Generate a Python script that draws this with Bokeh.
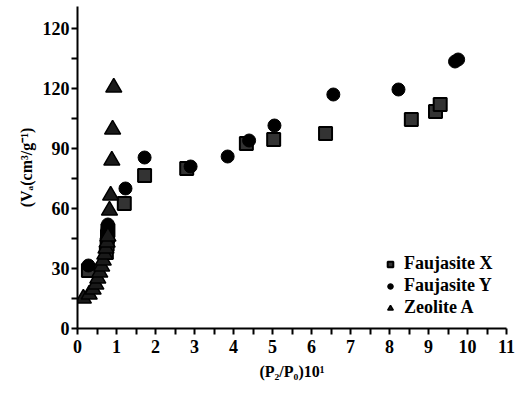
from bokeh.plotting import figure
from bokeh.models import Legend, LegendItem, FixedTicker
from bokeh.embed import file_html
from bokeh.resources import INLINE

# Faujasite X (squares)
fx_x = [0.28, 0.74, 0.76, 0.77, 0.78, 1.2, 1.72, 2.8, 4.33, 5.03, 6.36, 8.56, 9.18, 9.3]
fx_v = [29.0, 38.0, 42.0, 46.0, 49.0, 62.5, 76.5, 80.0, 92.5, 94.5, 97.5, 104.5, 108.5, 112.0]

# Faujasite Y (circles)
fy_x = [0.28, 0.76, 0.77, 0.78, 1.23, 1.72, 2.9, 3.85, 4.4, 5.05, 6.56, 8.23, 9.68, 9.76]
fy_v = [31.5, 47.0, 49.5, 52.0, 70.0, 85.5, 81.0, 86.0, 94.0, 101.5, 117.0, 119.5, 133.5, 134.5]

# Zeolite A (triangles)
za_x = [0.15, 0.3, 0.4, 0.47, 0.52, 0.57, 0.62, 0.66, 0.7, 0.73, 0.76, 0.78, 0.82, 0.85, 0.88, 0.9, 0.93]
za_v = [15.0, 17.0, 19.5, 22.0, 25.0, 28.0, 31.0, 34.0, 37.0, 40.0, 43.0, 46.0, 59.0, 66.5, 84.0, 99.5, 120.5]

x_ticks = [i * 0.5 for i in range(23)]
y_ticks = [i * 15 for i in range(11)]
y_labels = {0: "0", 30: "30", 60: "60", 90: "90", 120: "120", 150: "120"}

FONT = "Liberation Serif"

p = figure(width=515, height=396, x_range=(0, 11), y_range=(0, 161),
           output_backend="svg", toolbar_location=None,
           min_border_left=77, min_border_right=9, min_border_top=6, min_border_bottom=68)
p.grid.visible = False
p.outline_line_color = None

sq = p.scatter(fx_x, fx_v, marker="square", size=13, fill_color="#333333", line_color="black", line_width=2)
ci = p.scatter(fy_x, fy_v, marker="circle", size=13, fill_color="black", line_color="black")
tr = p.scatter(za_x, za_v, marker="triangle", size=16, fill_color="#1a1a1a", line_color="black", line_width=1.5)

for ax in (p.xaxis[0], p.yaxis[0]):
    ax.axis_line_width = 2
    ax.axis_line_color = "black"
    ax.major_tick_line_width = 2
    ax.major_tick_in = 0
    ax.major_tick_out = 6
    ax.minor_tick_line_color = None
    ax.major_label_text_font = FONT
    ax.major_label_text_font_style = "bold"
    ax.major_label_text_font_size = "18px"
    ax.major_label_text_color = "black"
    ax.axis_label_text_font = FONT
    ax.axis_label_text_font_style = "bold"
    ax.axis_label_text_font_size = "16px"
    ax.axis_label_text_color = "black"

p.xaxis.ticker = FixedTicker(ticks=x_ticks)
p.xaxis.major_label_overrides = {t: (str(int(t)) if t == int(t) else "") for t in x_ticks}
p.yaxis.ticker = FixedTicker(ticks=y_ticks)
p.yaxis.major_label_overrides = {t: y_labels.get(t, "") for t in y_ticks}
p.xaxis.axis_label = "(P₂/P₀)10¹"
p.yaxis.axis_label = "(Vₐ(cm³/g⁻¹)"
p.xaxis.major_label_standoff = 5
p.yaxis.major_label_standoff = 2
p.xaxis.axis_label_standoff = 7
p.yaxis.axis_label_standoff = 5

legend = Legend(items=[LegendItem(label="Faujasite X", renderers=[sq]),
                       LegendItem(label="Faujasite Y", renderers=[ci]),
                       LegendItem(label="Zeolite A", renderers=[tr])],
                location=(306, 10))
legend.background_fill_alpha = 0
legend.border_line_color = None
legend.label_text_font = FONT
legend.label_text_font_style = "bold"
legend.label_text_font_size = "18px"
legend.label_text_color = "black"
legend.label_height = 18
legend.glyph_width = 14
legend.glyph_height = 14
legend.spacing = 1
legend.padding = 2
legend.label_standoff = 7
p.add_layout(legend, "center")

open("out.html", "w").write(file_html(p, INLINE))
